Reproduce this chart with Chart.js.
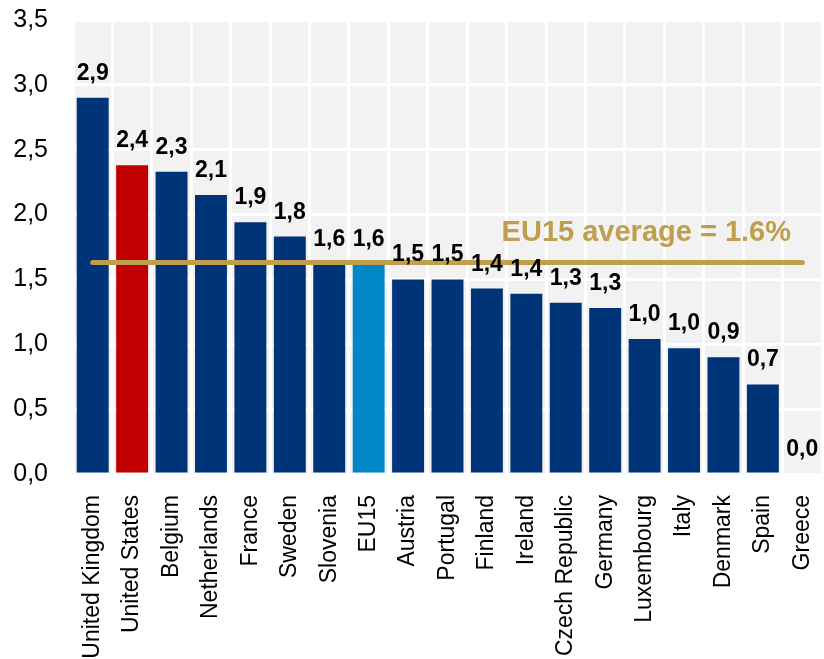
<!DOCTYPE html>
<html>
<head>
<meta charset="utf-8">
<script src="https://cdn.jsdelivr.net/npm/chart.js@4.4.1/dist/chart.umd.min.js"></script>
<style>
  html, body { margin: 0; padding: 0; background: #fff; }
  #wrap { width: 824px; height: 659px; }
</style>
</head>
<body>
<div id="wrap"><canvas id="growthChart" width="824" height="659"></canvas></div>
<script>
const countries = ['United Kingdom', 'United States', 'Belgium', 'Netherlands', 'France', 'Sweden', 'Slovenia', 'EU15',
    'Austria', 'Portugal', 'Finland', 'Ireland', 'Czech Republic', 'Germany', 'Luxembourg', 'Italy', 'Denmark', 'Spain', 'Greece']
const values = [2.90, 2.38, 2.33, 2.15, 1.94, 1.83, 1.62, 1.62, 1.50, 1.50, 1.43, 1.39, 1.32, 1.28, 1.04, 0.97, 0.90, 0.69, 0.0]
const eu15Average = 1.63
const yTicks = [0, 0.5, 1.0, 1.5, 2.0, 2.5, 3.0, 3.5]

const navy = '#003478'
const red = '#c00000'
const lightBlue = '#0088c6'
const gold = '#bf9e4c'

const barColors = countries.map((c) => {
    if (c === 'United States') return red
    if (c === 'EU15') return lightBlue
    return navy
})

const fmt = (v) => v.toFixed(1).replace('.', ',')

// grey plot background behind the grid
const plotBackground = {
    id: 'plotBackground',
    beforeDraw(chart) {
        const { ctx, chartArea } = chart
        ctx.save()
        ctx.fillStyle = '#f2f2f2'
        ctx.fillRect(chartArea.left, chartArea.top, chartArea.right - chartArea.left, chartArea.bottom - chartArea.top)
        ctx.restore()
    }
}

// value labels over the bars and the caption of the average line
const barLabels = {
    id: 'barLabels',
    afterDatasetsDraw(chart) {
        const { ctx } = chart
        const meta = chart.getDatasetMeta(1)
        ctx.save()
        ctx.font = 'bold 23px "Liberation Sans", Arial, sans-serif'
        ctx.fillStyle = '#000'
        ctx.textAlign = 'center'
        ctx.textBaseline = 'alphabetic'
        meta.data.forEach((bar, i) => {
            ctx.fillText(fmt(values[i]), bar.x, bar.y - 18)
        })

        const y = chart.scales.y.getPixelForValue(eu15Average)
        ctx.font = 'bold 29px "Liberation Sans", Arial, sans-serif'
        ctx.fillStyle = gold
        ctx.textAlign = 'right'
        ctx.fillText('EU15 average = ' + eu15Average.toFixed(1) + '%', chart.chartArea.right - 31, y - 22)
        ctx.restore()
    }
}

new Chart(document.getElementById('growthChart'), {
    data: {
        labels: countries,
        datasets: [{
            type: 'line',
            label: 'EU15 average',
            data: countries.map(() => eu15Average),
            borderColor: gold,
            borderWidth: 5,
            borderCapStyle: 'round',
            pointRadius: 0,
            order: 0
        }, {
            type: 'bar',
            label: 'Growth',
            data: values,
            backgroundColor: barColors,
            borderWidth: 0,
            barPercentage: 0.81,
            categoryPercentage: 1.0,
            order: 1
        }]
    },
    options: {
        responsive: false,
        animation: false,
        layout: {
            autoPadding: false,
            padding: { top: 20, right: 2, left: 0, bottom: 0 }
        },
        plugins: {
            legend: { display: false },
            tooltip: { enabled: false }
        },
        scales: {
            x: {
                grid: { color: '#ffffff', lineWidth: 3, drawTicks: false },
                border: { display: false },
                ticks: {
                    color: '#000',
                    font: { family: '"Liberation Sans", Arial, sans-serif', size: 23 },
                    minRotation: 90,
                    maxRotation: 90,
                    autoSkip: false,
                    padding: 21
                },
                afterFit(scale) {
                    scale.height = 185
                    scale.paddingLeft = 0
                    scale.paddingRight = 0
                }
            },
            y: {
                min: 0,
                max: 3.5,
                afterBuildTicks(scale) { scale.ticks = yTicks.map((v) => ({ value: v })) },
                grid: { color: '#ffffff', lineWidth: 3, drawTicks: false },
                border: { display: false },
                ticks: {
                    color: '#000',
                    font: { family: '"Liberation Sans", Arial, sans-serif', size: 25 },
                    padding: 25,
                    callback: (v) => fmt(v)
                },
                afterFit(scale) {
                    scale.width = 73
                    scale.paddingTop = 0
                    scale.paddingBottom = 0
                }
            }
        }
    },
    plugins: [plotBackground, barLabels]
})
</script>
</body>
</html>
